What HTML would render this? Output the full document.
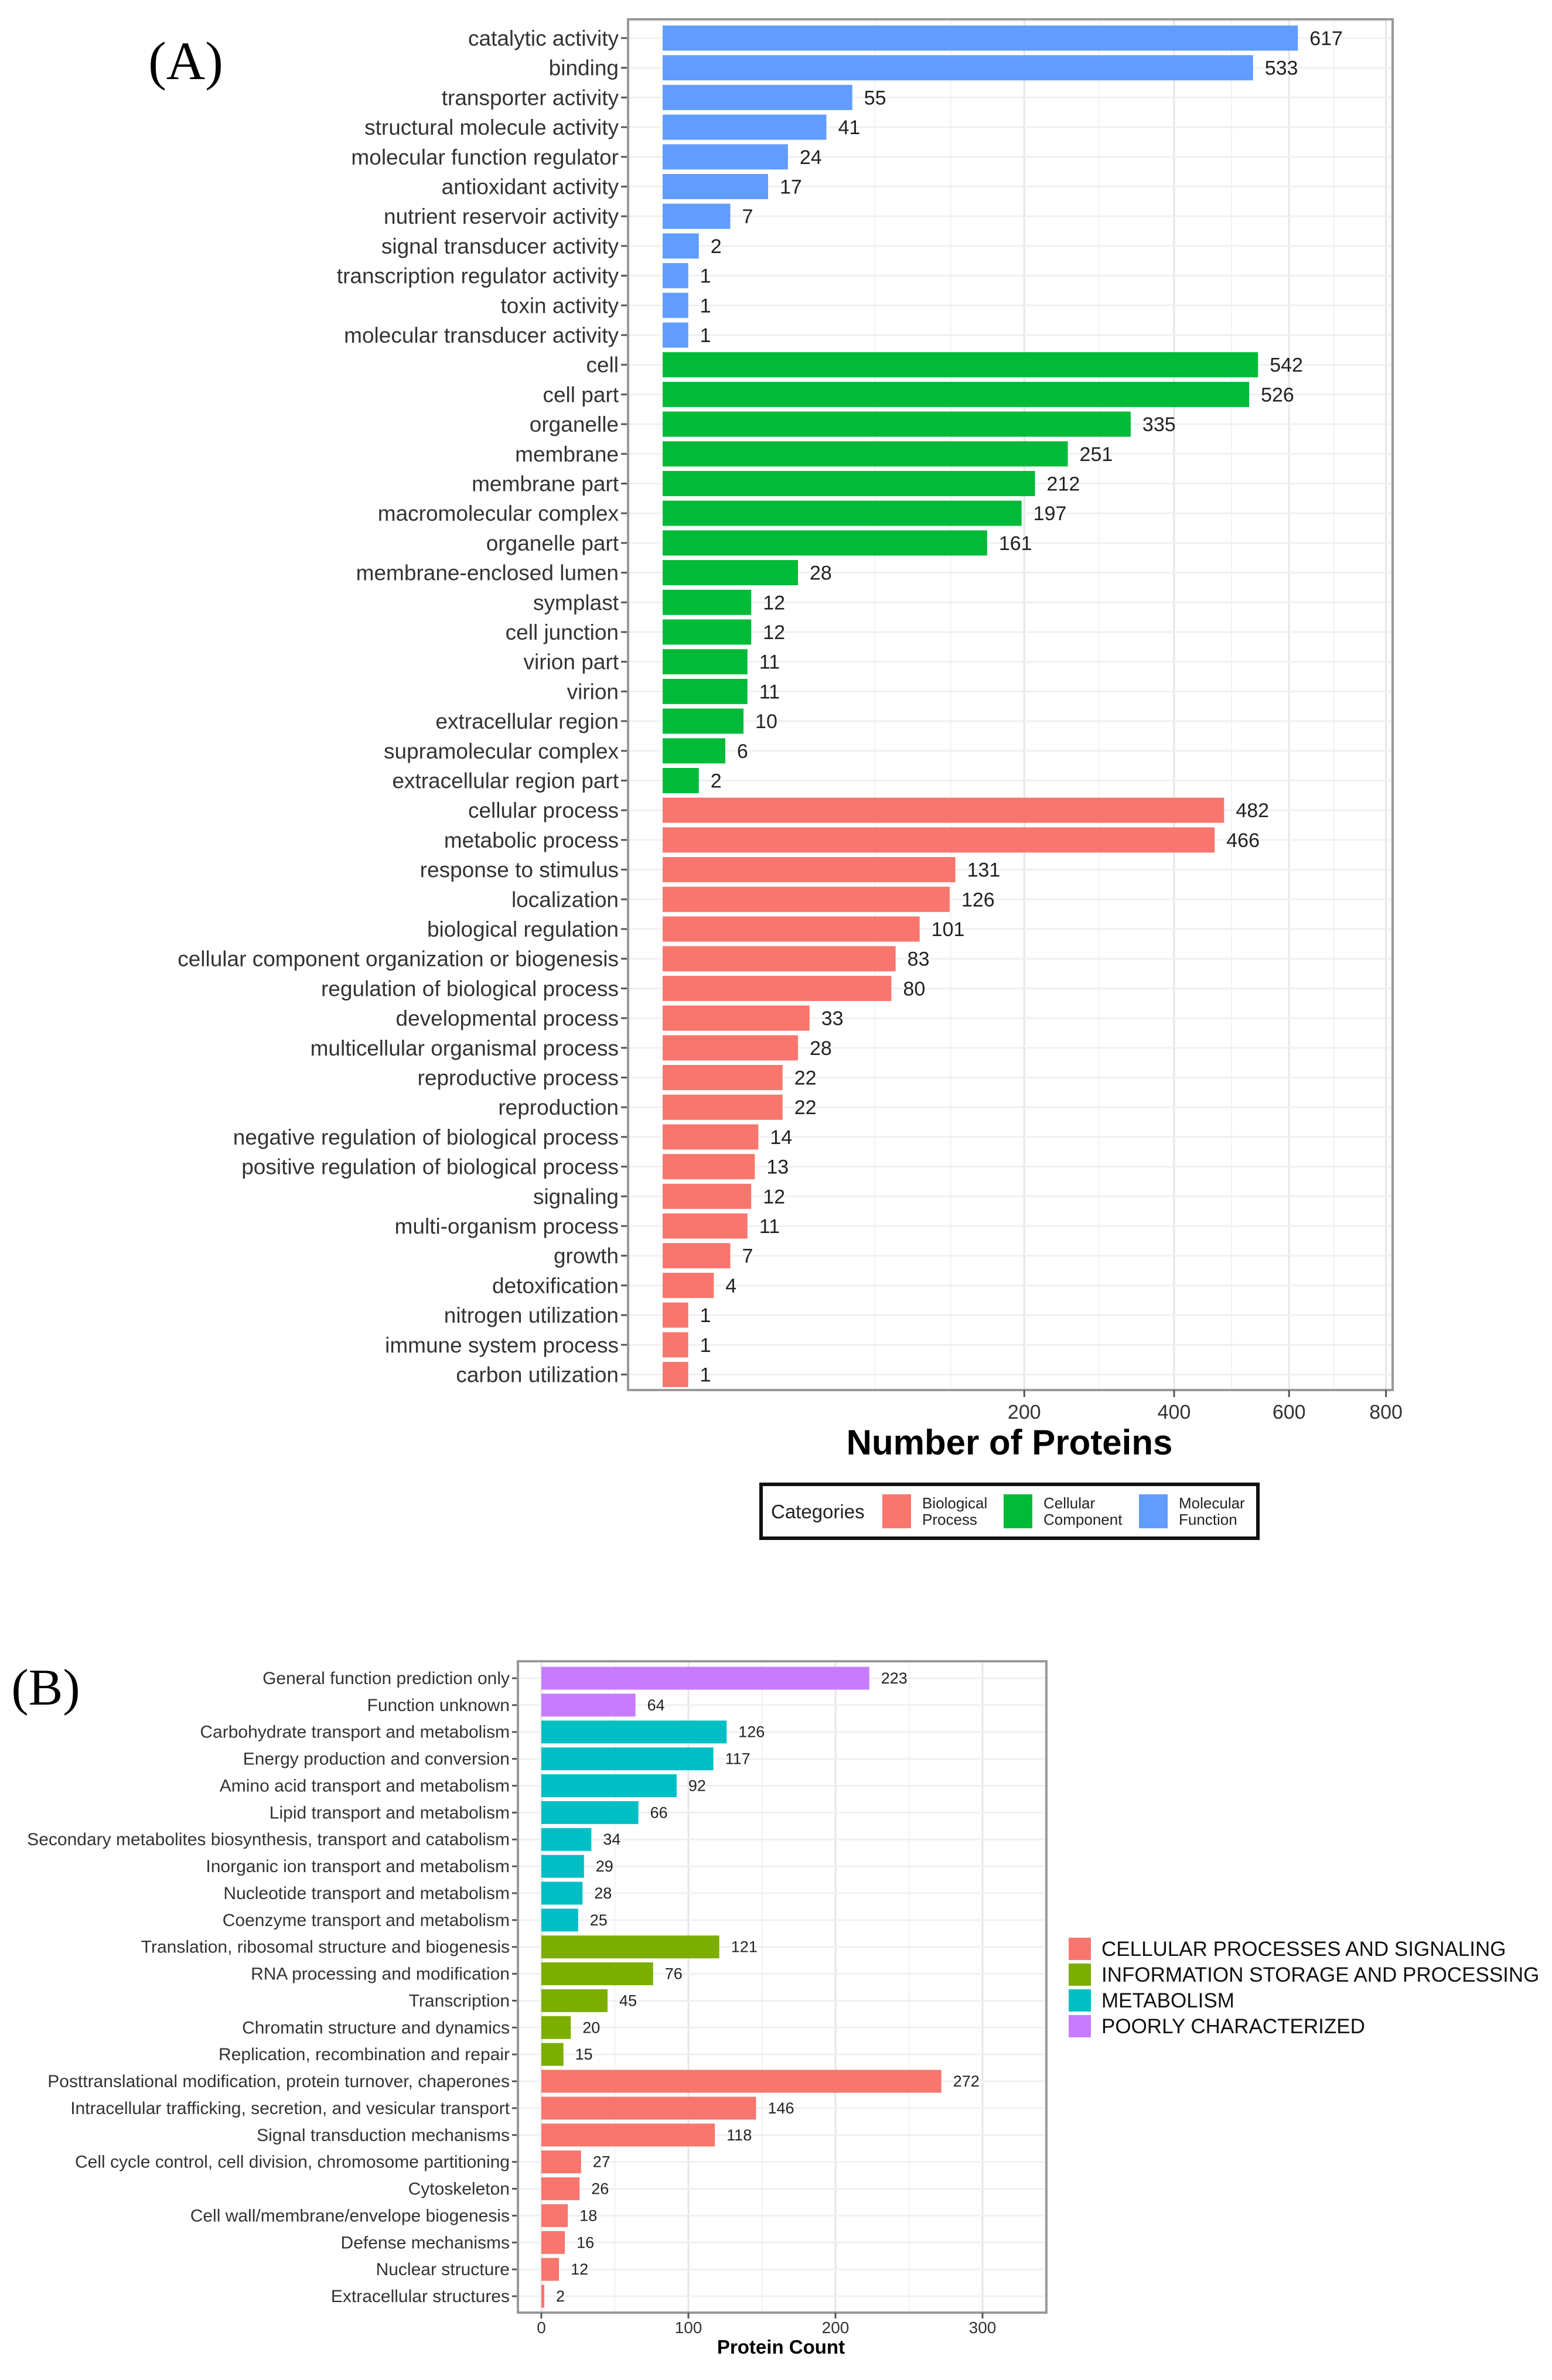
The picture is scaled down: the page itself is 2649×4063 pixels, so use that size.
<!DOCTYPE html>
<html><head><meta charset="utf-8"><style>
html,body{margin:0;padding:0;background:#fff;}
svg{display:block;font-family:"Liberation Sans",sans-serif;}
</style></head><body>
<svg id="chart" width="2649" height="4063" viewBox="0 0 2649 4063" xmlns="http://www.w3.org/2000/svg">
<rect x="0" y="0" width="2649" height="4063" fill="#fff"/>
<g id="panelA"></g>
<g id="panelB"></g>
</svg>
<script>
const aLabels = ["catalytic activity","binding","transporter activity","structural molecule activity","molecular function regulator","antioxidant activity","nutrient reservoir activity","signal transducer activity","transcription regulator activity","toxin activity","molecular transducer activity","cell","cell part","organelle","membrane","membrane part","macromolecular complex","organelle part","membrane-enclosed lumen","symplast","cell junction","virion part","virion","extracellular region","supramolecular complex","extracellular region part","cellular process","metabolic process","response to stimulus","localization","biological regulation","cellular component organization or biogenesis","regulation of biological process","developmental process","multicellular organismal process","reproductive process","reproduction","negative regulation of biological process","positive regulation of biological process","signaling","multi-organism process","growth","detoxification","nitrogen utilization","immune system process","carbon utilization"];
const aValues = [617,533,55,41,24,17,7,2,1,1,1,542,526,335,251,212,197,161,28,12,12,11,11,10,6,2,482,466,131,126,101,83,80,33,28,22,22,14,13,12,11,7,4,1,1,1];
const aGroups = ["MF","MF","MF","MF","MF","MF","MF","MF","MF","MF","MF","CC","CC","CC","CC","CC","CC","CC","CC","CC","CC","CC","CC","CC","CC","CC","BP","BP","BP","BP","BP","BP","BP","BP","BP","BP","BP","BP","BP","BP","BP","BP","BP","BP","BP","BP"];
const aTicks = [200,400,600,800];
const aMinor = [69,127,291,495,689];

const bLabels = ["General function prediction only","Function unknown","Carbohydrate transport and metabolism","Energy production and conversion","Amino acid transport and metabolism","Lipid transport and metabolism","Secondary metabolites biosynthesis, transport and catabolism","Inorganic ion transport and metabolism","Nucleotide transport and metabolism","Coenzyme transport and metabolism","Translation, ribosomal structure and biogenesis","RNA processing and modification","Transcription","Chromatin structure and dynamics","Replication, recombination and repair","Posttranslational modification, protein turnover, chaperones","Intracellular trafficking, secretion, and vesicular transport","Signal transduction mechanisms","Cell cycle control, cell division, chromosome partitioning","Cytoskeleton","Cell wall/membrane/envelope biogenesis","Defense mechanisms","Nuclear structure","Extracellular structures"];
const bValues = [223,64,126,117,92,66,34,29,28,25,121,76,45,20,15,272,146,118,27,26,18,16,12,2];
const bGroups = ["PC","PC","ME","ME","ME","ME","ME","ME","ME","ME","IS","IS","IS","IS","IS","CP","CP","CP","CP","CP","CP","CP","CP","CP"];
const bTicks = [0,100,200,300];
const bMinor = [50,150,250];
const bLegend = ["CELLULAR PROCESSES AND SIGNALING","INFORMATION STORAGE AND PROCESSING","METABOLISM","POORLY CHARACTERIZED"];
const bLegendKeys = ["CP","IS","ME","PC"];

const NS = "http://www.w3.org/2000/svg";
function mk(parent, tag, attrs, text){
  const e = document.createElementNS(NS, tag);
  for (const k in attrs) e.setAttribute(k, attrs[k]);
  if (text !== undefined) e.textContent = text;
  parent.appendChild(e);
  return e;
}
const aColors = {MF:"#619CFF", CC:"#00BA38", BP:"#F8766D"};
const bColors = {CP:"#F8766D", IS:"#7CAE00", ME:"#00BFC4", PC:"#C77CFF"};

// ---------- Panel A ----------
const A = document.getElementById('panelA');
const aL=1072, aR=2377, aT=33, aB=2373, aX0=1131, aK=43.65, aY0=65, aPitch=50.7, aBarH=43;
const ax = v => aX0 + aK*Math.sqrt(v);
const ay = i => aY0 + i*aPitch;
let t = mk(A,'text',{x:317,y:135,'font-family':'Liberation Serif, serif','font-size':92,'text-anchor':'middle'},'(A)');
 
const aGrid = mk(A,'g',{});
 
aMinor.forEach(v=>{ mk(aGrid,'line',{x1:ax(v),x2:ax(v),y1:aT,y2:aB,stroke:'#f2f2f2','stroke-width':2}); });
aTicks.forEach(v=>{ mk(aGrid,'line',{x1:ax(v),x2:ax(v),y1:aT,y2:aB,stroke:'#e6e6e6','stroke-width':3}); });
aLabels.forEach((l,i)=>{ mk(aGrid,'line',{x1:aL,x2:aR,y1:ay(i),y2:ay(i),stroke:'#f0f0f0','stroke-width':3}); });
aLabels.forEach((l,i)=>{
  const y = ay(i);
  const r = mk(A,'rect',{x:aX0,y:y-aBarH/2,width:ax(aValues[i])-aX0,height:aBarH,fill:aColors[aGroups[i]]});
  
  
  const v = mk(A,'text',{x:ax(aValues[i])+20,y:y+12,'font-size':34,fill:'#222'},String(aValues[i]));
   
  const lt = mk(A,'text',{x:1056,y:y+13,'font-size':37,fill:'#333','text-anchor':'end'},l);
   
  mk(A,'line',{x1:1060,x2:aL,y1:y,y2:y,stroke:'#555','stroke-width':3});
});
const aFrame = mk(A,'rect',{x:aL,y:aT,width:aR-aL,height:aB-aT,fill:'none',stroke:'#999','stroke-width':4});
 
aTicks.forEach(v=>{
  mk(A,'line',{x1:ax(v),x2:ax(v),y1:aB,y2:aB+12,stroke:'#555','stroke-width':3});
  const tl = mk(A,'text',{x:ax(v),y:aB+49,'font-size':34,fill:'#333','text-anchor':'middle'},String(v));
   
});
t = mk(A,'text',{x:1723,y:2483,'font-size':60,'font-weight':'bold','text-anchor':'middle'},'Number of Proteins');
 
const leg = mk(A,'g',{});
 
mk(leg,'rect',{x:1299,y:2534,width:848,height:92,fill:'#fff',stroke:'#111','stroke-width':6});
mk(leg,'text',{x:1316,y:2592,'font-size':33,fill:'#222'},'Categories');
[["BP",1506,"Biological","Process"],["CC",1713,"Cellular","Component"],["MF",1944,"Molecular","Function"]].forEach(d=>{
  const s = mk(leg,'rect',{x:d[1],y:2551,width:49,height:58,fill:aColors[d[0]]});
   
  mk(leg,'text',{x:d[1]+68,y:2575,'font-size':26,fill:'#222'},d[2]);
  mk(leg,'text',{x:d[1]+68,y:2603,'font-size':26,fill:'#222'},d[3]);
});

// ---------- Panel B ----------
const B = document.getElementById('panelB');
const bL=884, bR=1786, bT=2836, bBt=3948, bX0=924, bK=2.51, bY0=2865, bPitch=45.87, bBarH=39;
const bx = v => bX0 + bK*v;
const by = i => bY0 + i*bPitch;
t = mk(B,'text',{x:78,y:2910,'font-family':'Liberation Serif, serif','font-size':88,'text-anchor':'middle'},'(B)');
 
const bGrid = mk(B,'g',{});
 
bMinor.forEach(v=>{ mk(bGrid,'line',{x1:bx(v),x2:bx(v),y1:bT,y2:bBt,stroke:'#f2f2f2','stroke-width':2}); });
bTicks.forEach(v=>{ mk(bGrid,'line',{x1:bx(v),x2:bx(v),y1:bT,y2:bBt,stroke:'#e6e6e6','stroke-width':3}); });
bLabels.forEach((l,i)=>{ mk(bGrid,'line',{x1:bL,x2:bR,y1:by(i),y2:by(i),stroke:'#f0f0f0','stroke-width':3}); });
bLabels.forEach((l,i)=>{
  const y = by(i);
  const r = mk(B,'rect',{x:bX0,y:y-bBarH/2,width:bx(bValues[i])-bX0,height:bBarH,fill:bColors[bGroups[i]]});
  
  
  const v = mk(B,'text',{x:bx(bValues[i])+20,y:y+9,'font-size':27,fill:'#222'},String(bValues[i]));
   
  const lt = mk(B,'text',{x:870,y:y+10,'font-size':30,fill:'#333','text-anchor':'end'},l);
   
  mk(B,'line',{x1:874,x2:bL,y1:y,y2:y,stroke:'#555','stroke-width':3});
});
const bFrame = mk(B,'rect',{x:bL,y:bT,width:bR-bL,height:bBt-bT,fill:'none',stroke:'#999','stroke-width':4});
 
bTicks.forEach(v=>{
  mk(B,'line',{x1:bx(v),x2:bx(v),y1:bBt,y2:bBt+10,stroke:'#555','stroke-width':3});
  const tl = mk(B,'text',{x:bx(v),y:bBt+35,'font-size':28,fill:'#333','text-anchor':'middle'},String(v));
   
});
t = mk(B,'text',{x:1333,y:4018,'font-size':33,'font-weight':'bold','text-anchor':'middle'},'Protein Count');
 
const legB = mk(B,'g',{});
 
bLegend.forEach((l,i)=>{
  const y = 3327 + i*44;
  const s = mk(legB,'rect',{x:1824,y:y-19,width:38,height:38,fill:bColors[bLegendKeys[i]]});
   
  const lt = mk(legB,'text',{x:1880,y:y+12,'font-size':35,fill:'#111'},l);
   
});
</script>
</body></html>
